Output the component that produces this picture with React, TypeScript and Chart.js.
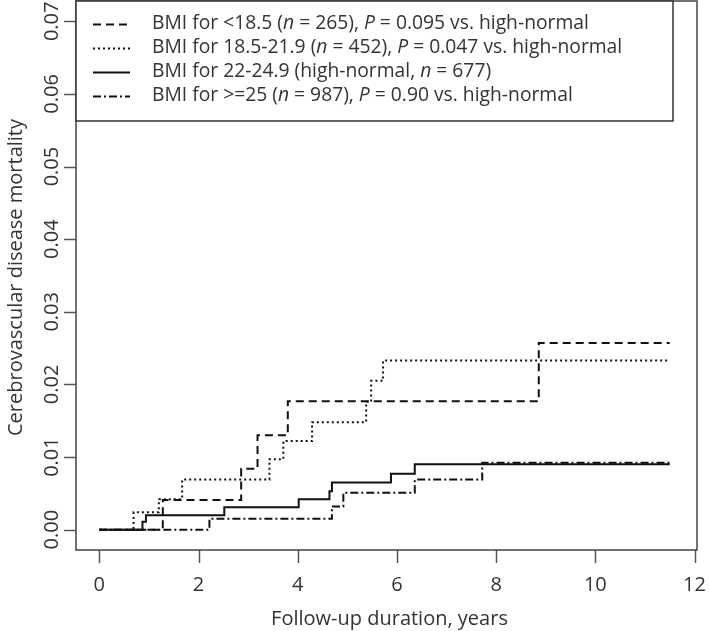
import React, { useEffect, useRef } from "react";
import { Chart, registerables } from "chart.js";

Chart.register(...registerables);

// ---- Data ----
const xTicks = [0, 2, 4, 6, 8, 10, 12];
const xTickLabels = ["0", "2", "4", "6", "8", "10", "12"];
const yTicks = [0, 0.01, 0.02, 0.03, 0.04, 0.05, 0.06, 0.07];
const yTickLabels = ["0.00", "0.01", "0.02", "0.03", "0.04", "0.05", "0.06", "0.07"];

const xTitle = "Follow-up duration, years";
const yTitle = "Cerebrovascular disease mortality";

// BMI < 18.5 (dashed)
const lowTimes = [0, 1.28, 2.86, 3.19, 3.8, 8.86, 11.5];
const lowValues = [0, 0.0041, 0.0084, 0.013, 0.0177, 0.0257, 0.0257];

// BMI 18.5-21.9 (dotted)
const midTimes = [0, 0.69, 1.2, 1.67, 3.43, 3.71, 4.29, 5.38, 5.48, 5.72, 11.5];
const midValues = [0, 0.0024, 0.0042, 0.0069, 0.0097, 0.0122, 0.0148, 0.0176, 0.0205, 0.0233, 0.0233];

// BMI 22-24.9 (solid, reference)
const refTimes = [0, 0.87, 0.94, 2.52, 4.02, 4.64, 4.69, 5.88, 6.36, 11.5];
const refValues = [0, 0.0011, 0.002, 0.0031, 0.0042, 0.0053, 0.0065, 0.0077, 0.009, 0.009];

// BMI >= 25 (dot-dash)
const highTimes = [0, 2.22, 4.69, 4.92, 6.36, 7.72, 11.5];
const highValues = [0, 0.0015, 0.0032, 0.0051, 0.0069, 0.0092, 0.0092];

type Seg = [string, boolean];
const legendLow: Seg[] = [["BMI for <18.5 (", false], ["n", true], [" = 265), ", false], ["P", true], [" = 0.095 vs. high-normal", false]];
const legendMid: Seg[] = [["BMI for 18.5-21.9 (", false], ["n", true], [" = 452), ", false], ["P", true], [" = 0.047 vs. high-normal", false]];
const legendRef: Seg[] = [["BMI for 22-24.9 (high-normal, ", false], ["n", true], [" = 677)", false]];
const legendHigh: Seg[] = [["BMI for >=25 (", false], ["n", true], [" = 987), ", false], ["P", true], [" = 0.90 vs. high-normal", false]];

const FONT = '"Open Sans", "Noto Sans", sans-serif';
const TEXT_COLOR = "#333";

const toPoints = (t: number[], v: number[]) => t.map((x, i) => ({ x, y: v[i] }));

const series = [
  { label: "low", times: lowTimes, values: lowValues, dash: [8, 5], legend: legendLow },
  { label: "mid", times: midTimes, values: midValues, dash: [2, 3], legend: legendMid },
  { label: "ref", times: refTimes, values: refValues, dash: [] as number[], legend: legendRef },
  { label: "high", times: highTimes, values: highValues, dash: [8, 3, 2, 3], legend: legendHigh },
];

const framePlugin = {
  id: "rframe",
  afterDraw(chart: any) {
    const ctx: CanvasRenderingContext2D = chart.ctx;
    const { left, right, top, bottom } = chart.chartArea;
    const xs = chart.scales.x;
    const ys = chart.scales.y;
    ctx.save();

    // ticks
    ctx.strokeStyle = "#555";
    ctx.lineWidth = 1.5;
    ctx.setLineDash([]);
    xTicks.forEach((t) => {
      const px = Math.round(xs.getPixelForValue(t)) + 0.5;
      ctx.beginPath();
      ctx.moveTo(px, bottom);
      ctx.lineTo(px, bottom + 13);
      ctx.stroke();
    });
    yTicks.forEach((t) => {
      const py = Math.round(ys.getPixelForValue(t)) + 0.5;
      ctx.beginPath();
      ctx.moveTo(left, py);
      ctx.lineTo(left - 12, py);
      ctx.stroke();
    });

    // box
    ctx.strokeStyle = "#444";
    ctx.lineWidth = 1.5;
    ctx.strokeRect(left, top, right - left, bottom - top);

    // tick labels
    ctx.fillStyle = TEXT_COLOR;
    ctx.font = `20px ${FONT}`;
    ctx.textAlign = "center";
    ctx.textBaseline = "alphabetic";
    xTicks.forEach((t, i) => {
      ctx.fillText(xTickLabels[i], xs.getPixelForValue(t), 591);
    });
    yTicks.forEach((t, i) => {
      ctx.save();
      ctx.translate(57.5, ys.getPixelForValue(t));
      ctx.rotate(-Math.PI / 2);
      ctx.fillText(yTickLabels[i], 0, 0);
      ctx.restore();
    });

    // titles
    ctx.fillText(xTitle, (left + right) / 2 + 3, 625);
    ctx.save();
    ctx.translate(21.5, (top + bottom) / 2 + 2);
    ctx.rotate(-Math.PI / 2);
    ctx.fillText(yTitle, 0, 0);
    ctx.restore();

    // legend
    const lx0 = left, lx1 = 673, ly0 = top, ly1 = 121;
    ctx.fillStyle = "#fff";
    ctx.fillRect(lx0, ly0, lx1 - lx0, ly1 - ly0);
    ctx.strokeStyle = "#333";
    ctx.lineWidth = 1.5;
    ctx.strokeRect(lx0, ly0, lx1 - lx0, ly1 - ly0);
    const rows = [24, 48, 72, 96];
    chart.data.datasets.forEach((ds: any, i: number) => {
      const y = rows[i];
      ctx.strokeStyle = ds.borderColor;
      ctx.lineWidth = ds.borderWidth;
      ctx.setLineDash(ds.borderDash || []);
      ctx.beginPath();
      ctx.moveTo(93, y + 0.5);
      ctx.lineTo(130, y + 0.5);
      ctx.stroke();
      ctx.setLineDash([]);
      let x = 152;
      ctx.textAlign = "left";
      ctx.textBaseline = "middle";
      ctx.fillStyle = TEXT_COLOR;
      (series[i].legend as Seg[]).forEach(([txt, it]) => {
        ctx.font = `${it ? "italic " : ""}19.3px ${FONT}`;
        ctx.fillText(txt, x, y);
        x += ctx.measureText(txt).width;
      });
    });
    ctx.restore();
  },
};

const bgPlugin = {
  id: "bg",
  beforeDraw(chart: any) {
    const ctx = chart.ctx;
    ctx.save();
    ctx.fillStyle = "#fff";
    ctx.fillRect(0, 0, chart.width, chart.height);
    ctx.restore();
  },
};

export default function App() {
  const ref = useRef<HTMLCanvasElement | null>(null);
  useEffect(() => {
    if (!ref.current) return;
    const chart = new Chart(ref.current, {
      type: "line",
      data: {
        datasets: series.map((s) => ({
          label: s.label,
          data: toPoints(s.times, s.values),
          borderColor: "#111",
          borderWidth: 2,
          borderDash: s.dash,
          stepped: "before" as const,
          pointRadius: 0,
          fill: false,
        })),
      },
      options: {
        responsive: false,
        animation: false,
        devicePixelRatio: 1,
        layout: { padding: { left: 76, right: 12, top: 1, bottom: 81 } },
        plugins: { legend: { display: false }, tooltip: { enabled: false } },
        scales: {
          x: { type: "linear", min: -0.47, max: 12.05, display: false },
          y: { type: "linear", min: -0.0028, max: 0.0728, display: false },
        },
      },
      plugins: [bgPlugin, framePlugin],
    });
    return () => chart.destroy();
  }, []);
  return (
    <div style={{ position: "absolute", left: 0, top: 0, width: 709, height: 631 }}>
      <canvas ref={ref} width={709} height={631} style={{ display: "block" }} />
    </div>
  );
}
